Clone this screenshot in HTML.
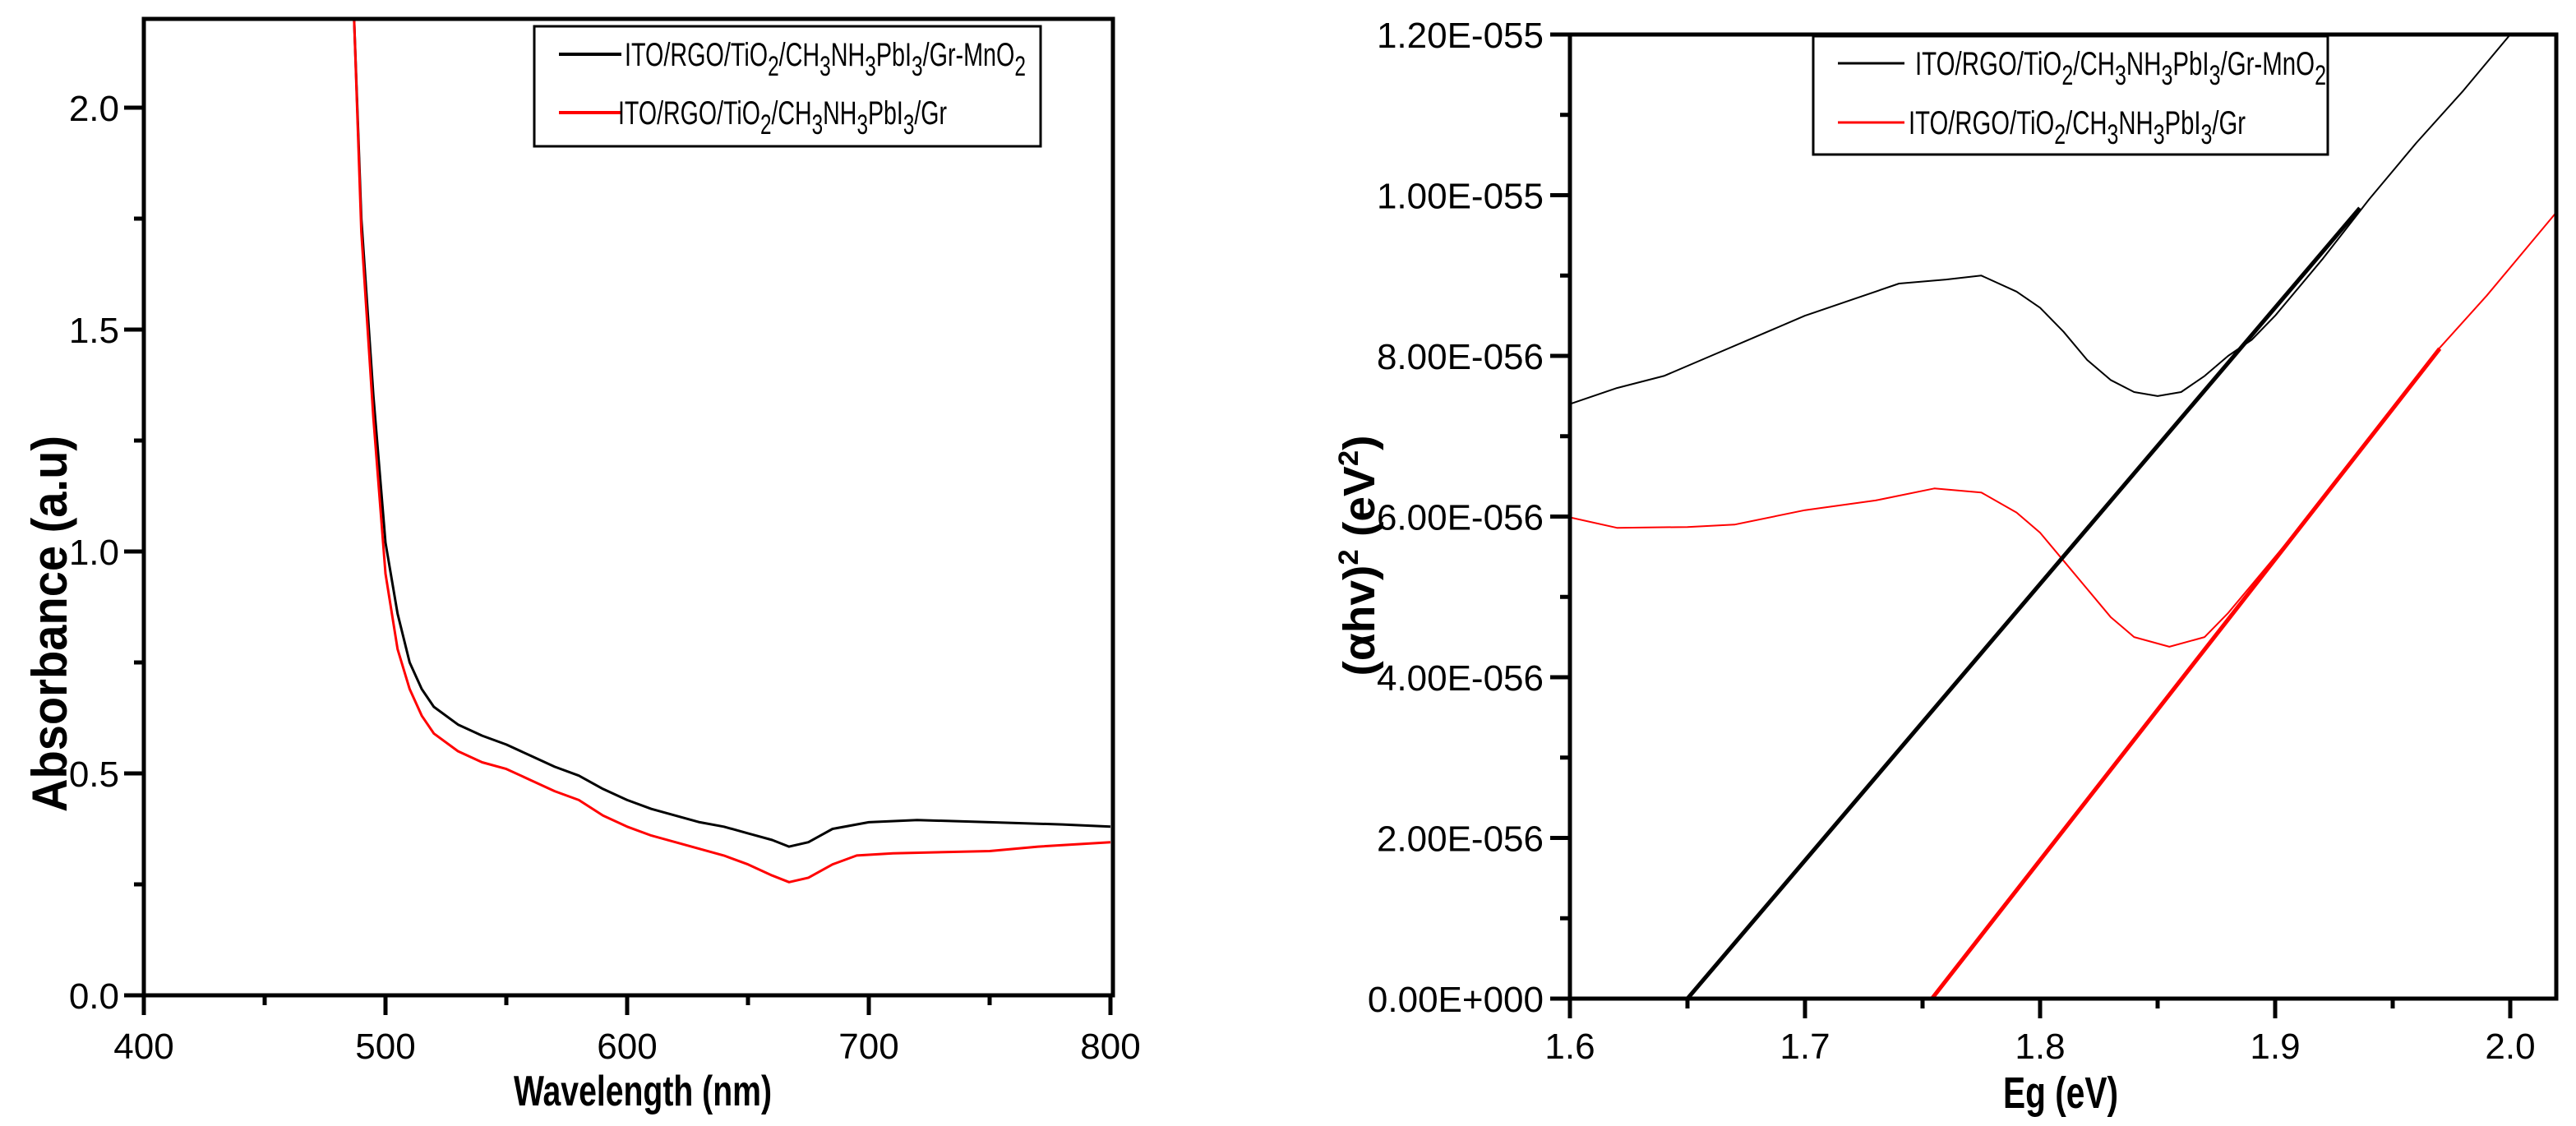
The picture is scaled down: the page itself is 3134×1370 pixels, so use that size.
<!DOCTYPE html>
<html><head><meta charset="utf-8"><style>
html,body{margin:0;padding:0;background:#fff;}
svg{display:block;}
text{font-family:"Liberation Sans Narrow","Liberation Sans",sans-serif;fill:#000;}
</style></head><body>
<svg id="chart" width="3134" height="1370" viewBox="0 0 3134 1370" xmlns="http://www.w3.org/2000/svg">
<defs>
<clipPath id="clipL"><rect x="175" y="23" width="1179" height="1188"/></clipPath>
<clipPath id="clipR"><rect x="1910" y="42" width="1200" height="1173"/></clipPath>
</defs>
<g id="left"></g>
<g id="right"></g>
</svg>
<script>
// ---- Left chart data (wavelength nm vs absorbance) ----
const wlBlack = [484,487,490,495,500,505,510,515,520,530,540,550,560,570,580,590,600,610,620,630,640,650,660,667,675,685,700,720,750,780,800];
const absBlack = [2.3,2.2,1.75,1.35,1.02,0.86,0.75,0.69,0.65,0.61,0.585,0.565,0.54,0.515,0.495,0.465,0.44,0.42,0.405,0.39,0.38,0.365,0.35,0.335,0.345,0.375,0.39,0.395,0.39,0.385,0.38];
const wlRed = [484,487,490,495,500,505,510,515,520,530,540,550,560,570,580,590,600,610,620,630,640,650,660,667,675,685,695,710,750,770,800];
const absRed = [2.3,2.2,1.72,1.3,0.95,0.78,0.69,0.63,0.59,0.55,0.525,0.51,0.485,0.46,0.44,0.405,0.38,0.36,0.345,0.33,0.315,0.295,0.27,0.255,0.265,0.295,0.315,0.32,0.325,0.335,0.345];
const leftXTicks = [400,500,600,700,800];
const leftYTicks = [0.0,0.5,1.0,1.5,2.0];
const leftYLabels = ["0.0","0.5","1.0","1.5","2.0"];

// ---- Right chart data (Eg eV vs (ahv)^2 in units of 1e-56) ----
const egBlack = [1.60,1.62,1.64,1.66,1.68,1.70,1.72,1.74,1.76,1.775,1.79,1.80,1.81,1.82,1.83,1.84,1.85,1.86,1.87,1.88,1.89,1.90,1.92,1.94,1.96,1.98,2.00];
const tBlack = [7.4,7.6,7.75,8.0,8.25,8.5,8.7,8.9,8.95,9.0,8.8,8.6,8.3,7.95,7.7,7.55,7.5,7.55,7.75,8.0,8.2,8.5,9.2,9.95,10.65,11.3,12.0];
const egRed = [1.60,1.62,1.65,1.67,1.70,1.73,1.755,1.775,1.79,1.80,1.81,1.82,1.83,1.84,1.855,1.87,1.88,1.89,1.90,1.92,1.94,1.96,1.97,1.99,2.02];
const tRed = [5.99,5.86,5.87,5.9,6.08,6.2,6.35,6.3,6.05,5.8,5.45,5.1,4.75,4.5,4.38,4.5,4.8,5.15,5.5,6.2,6.95,7.7,8.1,8.75,9.8];
const fitBlackX = [1.65,1.936];
const fitBlackY = [0,9.84];
const fitRedX = [1.754,1.970];
const fitRedY = [0,8.09];
const rightXTicks = [1.6,1.7,1.8,1.9,2.0];
const rightXLabels = ["1.6","1.7","1.8","1.9","2.0"];
const rightYTicks = [0,2,4,6,8,10,12];
const rightYLabels = ["0.00E+000","2.00E-056","4.00E-056","6.00E-056","8.00E-056","1.00E-055","1.20E-055"];

const NS="http://www.w3.org/2000/svg";
function mk(parent,tag,attrs,txt){const e=document.createElementNS(NS,tag);for(const k in attrs)e.setAttribute(k,attrs[k]);if(txt!==undefined)e.textContent=txt;parent.appendChild(e);return e;}

const Lx=v=>175+(v-400)*(1176/400);
const Ly=v=>1211-v*540;
const Rx=v=>1910+(v-1.6)*2860;
const Ry=v=>1215-v*97.75;

const L=document.getElementById('left');
const R=document.getElementById('right');

function line(g,xs,ys,fx,fy,color,w,clip,name){
  const pts=xs.map((x,i)=>fx(x).toFixed(1)+","+fy(ys[i]).toFixed(1)).join(" ");
  const p=mk(g,'polyline',{points:pts,fill:'none',stroke:color,'stroke-width':w,'stroke-linejoin':'round','clip-path':'url(#'+clip+')'});
  
  
}

// ----- LEFT CHART -----
line(L,wlBlack,absBlack,Lx,Ly,'#000',3,'clipL','series-gr-mno2-line');
line(L,wlRed,absRed,Lx,Ly,'#f00',3,'clipL','series-gr-line');
let fr=mk(L,'rect',{x:175,y:23,width:1179,height:1188,fill:'none',stroke:'#000','stroke-width':5});


for(let v=400;v<=800;v+=50){
  const major=(v%100===0);
  const t=mk(L,'line',{x1:Lx(v),x2:Lx(v),y1:1211,y2:1211+(major?24:12),stroke:'#000','stroke-width':5});
  
  
}
leftXTicks.forEach(v=>{
  const t=mk(L,'text',{x:Lx(v),y:1288,'font-size':44,'text-anchor':'middle'},String(v));
  
  
});
for(let i=0;i<=8;i++){
  const v=i*0.25;const major=(i%2===0);
  const t=mk(L,'line',{x1:175,x2:175-(major?24:12),y1:Ly(v),y2:Ly(v),stroke:'#000','stroke-width':5});
  
  
}
leftYTicks.forEach((v,i)=>{
  const t=mk(L,'text',{x:145,y:Ly(v)+16,'font-size':44,'text-anchor':'end'},leftYLabels[i]);
  
  
});
let xt=mk(L,'text',{x:782,y:1345,'font-size':52,'font-weight':'bold','text-anchor':'middle',textLength:314,lengthAdjust:'spacingAndGlyphs'},'Wavelength (nm)');


let yt=mk(L,'text',{x:0,y:0,'font-size':60,'font-weight':'bold','text-anchor':'middle',textLength:458,lengthAdjust:'spacingAndGlyphs',transform:'translate(81,759) rotate(-90)',style:'font-family:"Liberation Sans",sans-serif'},'Absorbance (a.u)');



function legend(g,x,y,w,h,lx1,lx2,y1,y2,tx,len1,len2,fsz,sw){
  const lg=mk(g,'g',{});
  
  
  mk(lg,'rect',{x:x,y:y,width:w,height:h,fill:'#fff',stroke:'#000','stroke-width':3});
  const a=mk(lg,'line',{x1:lx1,x2:lx2,y1:y1,y2:y1,stroke:'#000','stroke-width':sw});
  
  
  const b=mk(lg,'line',{x1:lx1,x2:lx2,y1:y2,y2:y2,stroke:'#f00','stroke-width':sw});
  
  
  const t1=mk(lg,'text',{x:tx,y:y1+14,'font-size':fsz,textLength:len1,lengthAdjust:'spacingAndGlyphs'});
  t1.innerHTML='ITO/RGO/TiO<tspan dy="12" font-size="'+(fsz*0.85)+'">2</tspan><tspan dy="-12">/CH</tspan><tspan dy="12" font-size="'+(fsz*0.85)+'">3</tspan><tspan dy="-12">NH</tspan><tspan dy="12" font-size="'+(fsz*0.85)+'">3</tspan><tspan dy="-12">PbI</tspan><tspan dy="12" font-size="'+(fsz*0.85)+'">3</tspan><tspan dy="-12">/Gr-MnO</tspan><tspan dy="12" font-size="'+(fsz*0.85)+'">2</tspan>';
  
  
  const t2=mk(lg,'text',{x:tx-8,y:y2+14,'font-size':fsz,textLength:len2,lengthAdjust:'spacingAndGlyphs'});
  t2.innerHTML='ITO/RGO/TiO<tspan dy="12" font-size="'+(fsz*0.85)+'">2</tspan><tspan dy="-12">/CH</tspan><tspan dy="12" font-size="'+(fsz*0.85)+'">3</tspan><tspan dy="-12">NH</tspan><tspan dy="12" font-size="'+(fsz*0.85)+'">3</tspan><tspan dy="-12">PbI</tspan><tspan dy="12" font-size="'+(fsz*0.85)+'">3</tspan><tspan dy="-12">/Gr</tspan>';
  
  
}
legend(L,650,32,616,146,680,756,66,137,760,488,400,40,4);

// ----- RIGHT CHART -----
line(R,egBlack,tBlack,Rx,Ry,'#000',2,'clipR','series-gr-mno2-tauc');
line(R,egRed,tRed,Rx,Ry,'#f00',2,'clipR','series-gr-tauc');
line(R,fitBlackX,fitBlackY,Rx,Ry,'#000',5,'clipR','fit-line-gr-mno2');
line(R,fitRedX,fitRedY,Rx,Ry,'#f00',5,'clipR','fit-line-gr');
let fr2=mk(R,'rect',{x:1910,y:42,width:1200,height:1173,fill:'none',stroke:'#000','stroke-width':5});


for(let i=0;i<=8;i++){
  const v=1.6+i*0.05;const major=(i%2===0);
  const t=mk(R,'line',{x1:Rx(v),x2:Rx(v),y1:1215,y2:1215+(major?24:12),stroke:'#000','stroke-width':5});
  
  
}
rightXTicks.forEach((v,i)=>{
  const t=mk(R,'text',{x:Rx(v),y:1288,'font-size':44,'text-anchor':'middle'},rightXLabels[i]);
  
  
});
for(let v=0;v<=12;v++){
  const major=(v%2===0);
  const t=mk(R,'line',{x1:1910,x2:1910-(major?24:12),y1:Ry(v),y2:Ry(v),stroke:'#000','stroke-width':5});
  
  
}
rightYTicks.forEach((v,i)=>{
  const t=mk(R,'text',{x:1878,y:Ry(v)+16,'font-size':44,'text-anchor':'end'},rightYLabels[i]);
  
  
});
let xt2=mk(R,'text',{x:2507,y:1348,'font-size':54,'font-weight':'bold','text-anchor':'middle',textLength:140,lengthAdjust:'spacingAndGlyphs'},'Eg (eV)');


let yt2=mk(R,'text',{x:0,y:0,'font-size':54,'font-weight':'bold','text-anchor':'middle',textLength:293,lengthAdjust:'spacingAndGlyphs',transform:'translate(1672,676) rotate(-90)',style:'font-family:"Liberation Sans",sans-serif'});
yt2.innerHTML='(αhv)<tspan dy="-20" font-size="34">2</tspan><tspan dy="20"> (eV</tspan><tspan dy="-20" font-size="34">2</tspan><tspan dy="20">)</tspan>';


legend(R,2206,44,626,144,2236,2317,77,149,2330,500,410,40,3);
</script>
</body></html>
